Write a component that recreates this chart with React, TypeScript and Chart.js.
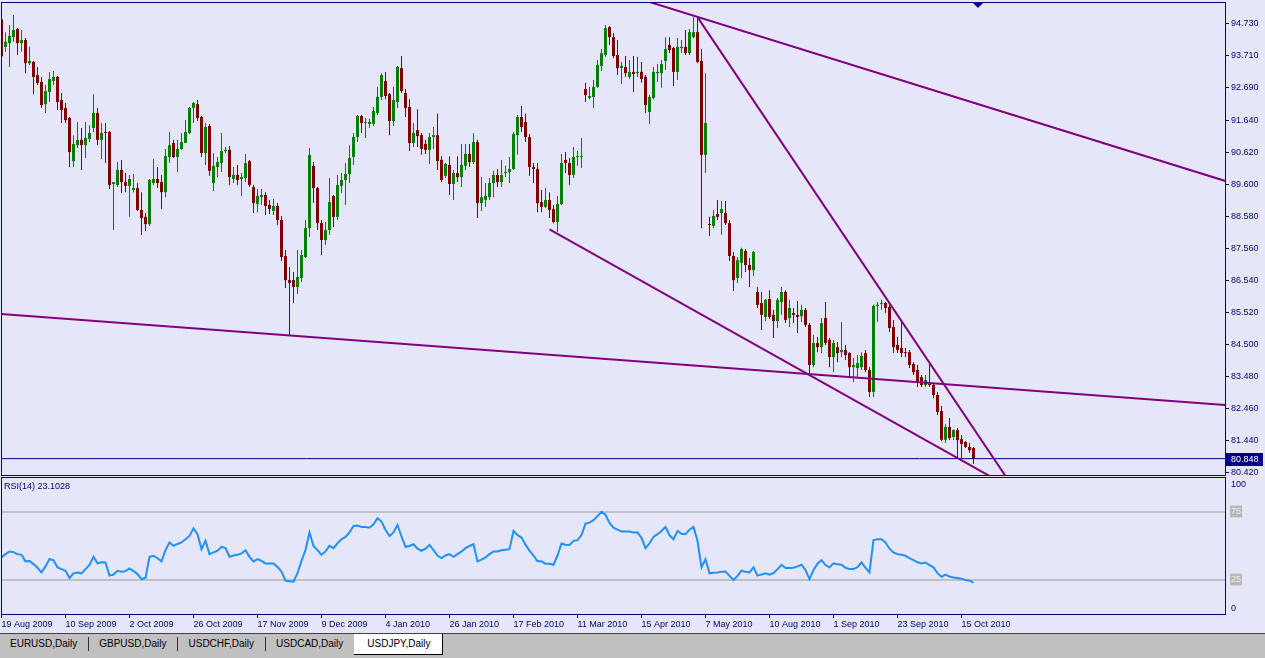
import React, { useEffect, useRef } from 'react';
import { Chart, registerables } from 'chart.js';

Chart.register(...registerables);

// ---------- data ----------
const dateLabels = ['19 Aug 2009', '10 Sep 2009', '2 Oct 2009', '26 Oct 2009', '17 Nov 2009', '9 Dec 2009', '4 Jan 2010', '26 Jan 2010', '17 Feb 2010', '11 Mar 2010', '15 Apr 2010', '7 May 2010', '10 Aug 2010', '1 Sep 2010', '23 Sep 2010', '15 Oct 2010'];
const barsPerLabel = 16;

const opens = [
  94.88, 94.00, 94.12, 94.31, 94.57, 94.12, 94.22, 93.48, 93.52, 93.10,
  92.88, 92.17, 92.56, 92.91, 93.04, 92.30, 92.05, 91.73, 90.35, 90.86,
  91.03, 90.86, 91.06, 91.41, 91.89, 91.03, 91.28, 91.28, 89.62, 89.59,
  90.07, 89.68, 89.56, 89.43, 89.49, 88.79, 88.57, 88.34, 89.65, 89.78,
  89.68, 89.36, 90.48, 90.93, 90.48, 90.74, 90.93, 91.25, 92.05, 92.17,
  91.76, 90.61, 91.47, 89.65, 90.16, 90.29, 90.67, 90.71, 89.78, 89.91,
  89.78, 89.81, 90.35, 89.52, 88.98, 89.20, 89.27, 88.95, 88.76, 88.92,
  88.47, 87.32, 86.55, 86.55, 86.33, 86.62, 87.29, 88.21, 90.20, 89.49,
  88.37, 87.83, 88.15, 89.24, 88.57, 89.56, 89.75, 89.94, 90.48, 91.12,
  91.79, 91.57, 91.54, 91.54, 91.89, 92.40, 92.91, 92.49, 91.63, 92.24,
  93.32, 92.53, 92.08, 90.93, 91.34, 91.18, 90.90, 90.71, 91.12, 91.18,
  90.39, 89.88, 90.23, 89.62, 89.97, 89.84, 90.20, 90.58, 90.32, 90.96,
  89.01, 89.11, 89.20, 89.65, 89.91, 89.68, 89.97, 90.00, 90.10, 91.18,
  91.76, 91.60, 91.12, 90.16, 90.10, 89.04, 88.89, 89.11, 88.82, 88.41,
  88.98, 90.39, 90.29, 89.91, 90.48, 90.48, 92.65, 92.37, 92.40, 92.72,
  93.39, 93.74, 94.63, 94.31, 93.74, 93.32, 93.36, 93.04, 93.20, 93.16,
  93.20, 93.04, 91.92, 92.37, 93.16, 93.16, 93.55, 94.06, 93.96, 93.20,
  93.96, 94.00, 93.80, 94.31, 94.47, 93.55, 90.55, 88.34, 88.28, 88.66,
  88.69, 88.69, 88.37, 87.32, 86.62, 87.10, 87.48, 87.03, 86.87, 86.17,
  85.82, 85.37, 85.95, 85.44, 85.24, 85.85, 86.17, 85.34, 85.50, 85.44,
  85.40, 85.60, 85.12, 83.84, 84.54, 84.41, 85.34, 84.64, 84.09, 84.41,
  84.25, 84.32, 84.22, 83.77, 83.74, 83.77, 84.22, 83.68, 82.98, 85.72,
  85.79, 85.82, 85.69, 85.05, 84.48, 84.38, 84.25, 84.25, 83.87, 83.68,
  83.45, 83.20, 83.29, 83.20, 82.88, 82.37, 81.45, 81.86, 81.54, 81.76,
  81.47, 81.38, 81.22, 81.19,
];

const highs = [
  94.95, 94.47, 94.70, 95.02, 94.60, 94.54, 94.28, 94.00, 93.55, 93.36,
  93.04, 92.78, 93.20, 93.23, 93.07, 92.53, 92.21, 91.76, 91.18, 91.60,
  91.41, 91.60, 91.50, 92.49, 92.05, 91.57, 91.57, 91.31, 89.68, 90.32,
  90.39, 89.97, 89.91, 89.94, 89.65, 89.36, 88.69, 89.78, 90.42, 90.16,
  89.91, 90.74, 91.28, 91.03, 91.03, 91.25, 91.66, 92.08, 92.24, 92.30,
  91.79, 91.57, 91.54, 90.61, 90.48, 91.25, 90.80, 90.83, 90.16, 90.23,
  89.97, 90.58, 90.39, 89.59, 89.46, 89.46, 89.36, 89.11, 89.14, 89.01,
  88.60, 87.51, 86.97, 86.81, 87.51, 87.51, 88.47, 90.77, 90.32, 89.52,
  88.47, 88.41, 89.81, 89.27, 89.91, 89.97, 90.29, 90.86, 91.25, 91.82,
  91.82, 91.73, 91.70, 92.08, 92.72, 93.16, 93.20, 92.53, 92.72, 93.39,
  93.71, 92.65, 92.33, 91.57, 92.01, 91.25, 91.03, 91.25, 91.44, 91.86,
  90.51, 90.29, 90.51, 90.07, 90.51, 90.90, 90.90, 90.90, 91.25, 91.03,
  89.84, 89.65, 89.81, 90.04, 90.10, 90.39, 90.20, 90.48, 91.28, 91.82,
  92.11, 91.86, 91.22, 90.29, 90.29, 89.43, 89.49, 89.36, 88.95, 89.24,
  90.58, 90.64, 90.45, 90.80, 90.67, 91.09, 92.85, 92.72, 92.94, 93.58,
  93.93, 94.70, 94.67, 94.44, 94.22, 93.52, 93.71, 93.58, 93.71, 93.68,
  93.52, 93.10, 92.46, 93.36, 93.45, 93.58, 94.31, 94.31, 94.00, 94.28,
  94.22, 94.54, 94.57, 94.95, 94.95, 93.93, 93.16, 88.57, 88.79, 89.11,
  89.08, 89.08, 88.47, 87.45, 87.29, 87.58, 87.54, 87.26, 87.48, 86.33,
  86.17, 85.95, 86.23, 85.60, 85.98, 86.33, 86.23, 85.92, 85.66, 85.88,
  85.76, 85.66, 85.18, 84.80, 84.73, 85.34, 85.85, 84.70, 84.64, 84.57,
  85.21, 84.48, 84.25, 84.06, 84.16, 84.25, 84.32, 83.77, 85.76, 85.85,
  85.92, 85.85, 85.76, 85.28, 84.73, 85.28, 84.38, 84.32, 83.93, 83.84,
  83.52, 83.52, 83.90, 83.26, 82.98, 82.53, 81.95, 82.15, 81.79, 81.83,
  81.60, 81.41, 81.35, 81.22,
];

const lows = [
  93.62, 93.84, 93.36, 94.16, 93.74, 93.84, 93.16, 93.42, 92.49, 92.78,
  92.05, 91.89, 92.24, 92.78, 91.98, 91.57, 91.57, 90.16, 90.16, 90.77,
  90.07, 90.45, 90.96, 91.28, 90.86, 90.42, 90.29, 89.46, 88.15, 89.52,
  89.33, 89.36, 88.57, 89.36, 88.76, 87.99, 88.12, 88.28, 89.59, 89.49,
  88.82, 89.20, 90.29, 90.45, 90.00, 90.71, 90.93, 91.22, 91.57, 91.63,
  90.48, 90.23, 89.88, 89.40, 89.84, 90.00, 90.61, 89.59, 89.65, 89.59,
  89.24, 89.68, 89.52, 88.69, 88.72, 88.95, 88.63, 88.66, 88.63, 88.31,
  87.16, 86.30, 84.80, 85.82, 86.11, 86.49, 87.26, 87.93, 89.01, 88.15,
  87.35, 87.67, 87.99, 88.25, 88.47, 89.33, 88.95, 89.65, 90.23, 90.96,
  91.25, 91.09, 91.41, 91.47, 91.82, 92.30, 92.33, 91.18, 91.47, 92.05,
  92.53, 91.76, 90.67, 90.80, 90.80, 90.55, 90.58, 90.26, 90.74, 90.07,
  89.68, 89.81, 89.27, 89.11, 89.68, 89.52, 90.07, 90.16, 90.26, 88.53,
  88.76, 88.89, 89.11, 89.20, 89.52, 89.52, 89.84, 89.65, 90.07, 90.55,
  91.28, 90.96, 89.88, 89.65, 88.72, 88.72, 88.85, 88.53, 88.37, 88.09,
  88.95, 89.97, 89.59, 89.81, 90.20, 90.13, 92.24, 92.33, 92.05, 92.69,
  93.23, 93.68, 94.06, 93.64, 93.10, 92.81, 93.04, 92.97, 92.56, 93.04,
  92.85, 91.89, 91.54, 92.33, 92.88, 92.69, 93.26, 93.80, 92.75, 92.94,
  93.80, 93.74, 93.74, 94.28, 93.48, 88.21, 89.97, 87.96, 88.21, 88.47,
  88.00, 88.31, 87.16, 86.20, 86.46, 86.62, 86.81, 86.33, 86.68, 85.66,
  84.96, 85.24, 85.31, 84.70, 85.02, 85.44, 85.18, 85.05, 85.18, 84.86,
  85.21, 85.05, 83.58, 83.77, 84.25, 84.22, 84.48, 83.77, 83.61, 83.93,
  84.09, 84.00, 83.45, 83.29, 83.45, 83.68, 83.61, 82.82, 82.82, 85.21,
  85.60, 85.50, 84.89, 84.22, 84.22, 84.09, 84.09, 83.74, 83.52, 83.14,
  83.14, 83.14, 83.14, 82.78, 82.24, 81.40, 81.35, 81.44, 81.44, 80.86,
  80.83, 81.19, 81.03, 80.68,
];

const closes = [
  93.70, 94.16, 94.35, 94.54, 94.12, 94.22, 93.48, 93.55, 93.04, 92.85,
  92.14, 92.59, 92.97, 93.04, 92.24, 91.98, 91.66, 90.64, 90.90, 91.03,
  90.86, 91.09, 91.25, 91.89, 91.03, 91.25, 91.25, 89.59, 89.68, 90.07,
  89.68, 89.56, 89.78, 89.49, 88.79, 88.53, 88.34, 89.75, 89.78, 89.65,
  89.36, 90.51, 90.86, 90.48, 90.74, 90.96, 91.28, 92.05, 92.21, 91.73,
  90.61, 91.44, 90.04, 90.20, 90.32, 90.67, 90.71, 89.84, 89.91, 89.75,
  89.84, 90.29, 89.59, 89.01, 89.24, 89.27, 88.92, 88.82, 88.92, 88.47,
  87.29, 86.55, 86.46, 86.33, 86.65, 87.35, 88.21, 90.55, 89.49, 88.37,
  87.83, 88.15, 89.04, 88.57, 89.59, 89.75, 89.94, 90.45, 91.12, 91.79,
  91.57, 91.60, 91.60, 91.95, 92.40, 93.10, 92.43, 91.63, 92.30, 93.36,
  92.59, 92.05, 90.93, 91.25, 91.15, 90.74, 90.71, 91.12, 91.18, 90.35,
  89.75, 90.26, 89.62, 89.97, 89.84, 90.23, 90.58, 90.32, 90.96, 89.01,
  89.20, 89.24, 89.65, 89.91, 89.68, 89.91, 90.00, 90.10, 91.22, 91.76,
  91.44, 91.12, 90.16, 90.10, 89.01, 88.89, 89.11, 88.79, 88.41, 88.98,
  90.29, 90.29, 89.91, 90.48, 90.51, 90.51, 92.46, 92.43, 92.72, 93.42,
  93.80, 94.60, 94.31, 93.71, 93.32, 93.39, 93.16, 93.20, 93.13, 93.20,
  92.97, 92.14, 92.40, 93.20, 93.20, 93.45, 93.93, 93.90, 93.20, 94.00,
  94.00, 93.80, 94.47, 94.47, 93.52, 90.55, 91.57, 88.31, 88.60, 88.57,
  88.82, 88.37, 87.32, 86.55, 87.19, 87.54, 87.03, 86.87, 87.45, 85.76,
  85.44, 85.92, 85.37, 85.24, 85.92, 86.17, 85.28, 85.66, 85.44, 85.37,
  85.60, 85.12, 83.84, 84.54, 84.41, 85.18, 84.54, 84.09, 84.54, 84.22,
  84.32, 84.16, 83.77, 83.84, 83.90, 84.13, 83.68, 82.98, 85.72, 85.76,
  85.82, 85.66, 85.02, 84.41, 84.32, 84.22, 84.22, 83.84, 83.61, 83.29,
  83.20, 83.36, 83.20, 82.88, 82.34, 81.45, 81.86, 81.51, 81.76, 81.44,
  81.32, 81.22, 81.12, 80.848,
];

const rsiPeriod = 14;
const rsiValues = [
  41.6, 44, 46, 45.5, 44, 43.5, 38.7, 39, 36.7, 34,
  30.6, 35, 40.4, 39.5, 34.3, 33, 31.8, 26.5, 29.9, 30.5,
  29.9, 33, 36, 42.1, 37.2, 38, 37.9, 28.2, 29, 31.8,
  31.1, 31.5, 33.5, 31.5, 29.4, 25.7, 26.5, 42.1, 42.8, 41,
  38.7, 47, 52.6, 50.1, 51.5, 52.6, 55, 57.4, 63, 58.7,
  47.7, 53.8, 44, 45.3, 46.5, 49.4, 48.4, 42.1, 43, 43.5,
  44.5, 46.9, 42, 38.7, 40.4, 39, 37.2, 37.2, 37.2, 34.5,
  31.3, 24.5, 24, 23.8, 30, 39.1, 47, 59.9, 50.1, 47,
  43.5, 46, 50.1, 48.4, 52, 55, 56.7, 60, 64.8, 65,
  64, 64, 63.5, 66, 70.4, 68, 62, 57.4, 60, 65.5,
  57, 49.4, 50, 51.3, 48, 46.5, 48, 50.8, 47, 43,
  41.1, 43, 44, 42.1, 44, 46, 48.4, 50, 51.3, 38.7,
  40, 41.6, 44, 46, 46, 46.9, 47.3, 47.7, 61.1, 58,
  56.2, 51, 46.5, 43, 38.7, 38.7, 37, 37, 36.2, 43,
  51.8, 51, 50.8, 53.8, 54.3, 58, 66.5, 67.2, 69, 72,
  75.2, 73, 67, 63.5, 62, 60.6, 60.6, 60.6, 60, 59.9,
  56, 48.4, 52, 56.7, 58.7, 61, 64, 58, 55, 61.1,
  59, 58.7, 62, 64, 53.8, 34.3, 40.4, 29.9, 30.3, 30.6,
  31, 31.3, 28, 25, 28, 31.8, 31, 30.6, 34.3, 28.2,
  29, 29.9, 28.9, 30, 33, 36.2, 33.8, 33.8, 34, 35,
  36.2, 32.3, 25.7, 32.3, 37, 39.6, 36, 34.3, 37.2, 36.5,
  36.2, 34, 33, 33, 34.5, 37.9, 34, 30.6, 54.3, 55,
  55, 52.6, 48, 45.3, 44, 43.5, 42.8, 41, 39.6, 38,
  37.2, 37.9, 36, 34.3, 30, 27.4, 28.9, 27.5, 26.9, 26.5,
  26, 25, 24.5, 23.1028,
];
const rsiLevels = [75, 25];
const rsiScaleMin = 0;
const rsiScaleMax = 100;

const priceTicks = [94.73, 93.71, 92.69, 91.64, 90.62, 89.6, 88.58, 87.56, 86.54, 85.52, 84.5, 83.48, 82.46, 81.44, 80.42];

// trend lines: [bar index, price] end points
const supportLine = [{ x: -1, y: 85.474 }, { x: 310, y: 82.523 }];
const upperLine = [{ x: 150, y: 95.91 }, { x: 310, y: 89.556 }];
const steepLine = [{ x: 174, y: 94.95 }, { x: 260, y: 78.58 }];
const lowerLine = [{ x: 137, y: 88.173 }, { x: 260, y: 79.364 }];

const tabs = ['EURUSD,Daily', 'GBPUSD,Daily', 'USDCHF,Daily', 'USDCAD,Daily', 'USDJPY,Daily'];
const activeTab = 'USDJPY,Daily';

// ---------- styles / layout ----------
const NAVY = '#000080';
const BG = '#E6E6FA';
const BULL = '#008000';
const BEAR = '#800000';
const TREND = '#800080';
const RSI_COLOR = '#1E90FF';
const LEVEL = '#C0C0C0';
const FONT = '"Liberation Sans", Arial, sans-serif';
const X_MIN = -0.125;
const X_SPAN = 306;
const Y_MAX = 95.4007;
const Y_MIN = 80.3256;

const framePlugin = {
  id: 'frame',
  afterDatasetsDraw(chart: any) {
    const { ctx, chartArea: a } = chart;
    ctx.save();
    ctx.strokeStyle = NAVY;
    ctx.lineWidth = 1;
    ctx.strokeRect(Math.round(a.left) + 0.5, Math.round(a.top) - 0.5, Math.round(a.right - a.left), Math.round(a.bottom - a.top) + 1);
    ctx.restore();
  },
};

const noPadY = (width: number) => (s: any) => {
  s.width = width;
  s.paddingTop = 0;
  s.paddingBottom = 0;
};
const noPadX = (height: number) => (s: any) => {
  s.height = height;
  s.paddingLeft = 0;
  s.paddingRight = 0;
};

function MainChart() {
  const ref = useRef<HTMLCanvasElement | null>(null);
  useEffect(() => {
    const canvas = ref.current;
    if (!canvas) return;
    const colors = closes.map((c, i) => (c >= opens[i] ? BULL : BEAR));
    const lastClose = closes[closes.length - 1];
    const lineDs = (data: any[], color: string, width: number) => ({
      type: 'line' as const,
      data,
      borderColor: color,
      borderWidth: width,
      pointRadius: 0,
      fill: false,
      tension: 0,
      order: 0,
    });
    const priceLabel = {
      id: 'priceLabel',
      afterDraw(chart: any) {
        const { ctx, chartArea: a, scales } = chart;
        const py = Math.round(scales.y.getPixelForValue(lastClose));
        ctx.save();
        ctx.fillStyle = NAVY;
        ctx.fillRect(a.right + 1, py - 6, chart.width - a.right - 3, 13);
        ctx.fillStyle = '#FFFFFF';
        ctx.font = `9px ${FONT}`;
        ctx.textBaseline = 'middle';
        ctx.textAlign = 'left';
        ctx.fillText(lastClose.toFixed(3), a.right + 6, py + 0.5);
        // chart-shift marker just after the last bar
        const sx = Math.round(scales.x.getPixelForValue(opens.length));
        const ty = Math.round(a.top);
        ctx.fillStyle = NAVY;
        ctx.beginPath();
        ctx.moveTo(sx - 5, ty);
        ctx.lineTo(sx + 5, ty);
        ctx.lineTo(sx, ty + 5);
        ctx.closePath();
        ctx.fill();
        ctx.restore();
      },
    };
    const chart = new Chart(canvas, {
      type: 'bar',
      data: {
        datasets: [
          lineDs(supportLine, TREND, 2),
          lineDs(upperLine, TREND, 2),
          lineDs(steepLine, TREND, 2),
          lineDs(lowerLine, TREND, 2),
          lineDs([{ x: X_MIN - 1, y: lastClose }, { x: X_MIN + X_SPAN + 1, y: lastClose }], NAVY, 1),
          {
            type: 'bar',
            data: opens.map((o, i) => ({ x: i, y: [o, closes[i]] })),
            backgroundColor: colors,
            barThickness: 3,
            minBarLength: 1,
            grouped: false,
            inflateAmount: 0,
            borderWidth: 0,
            order: 1,
          },
          {
            type: 'bar',
            data: highs.map((h, i) => ({ x: i, y: [lows[i], h] })),
            backgroundColor: colors,
            barThickness: 1,
            grouped: false,
            inflateAmount: 0,
            borderWidth: 0,
            order: 2,
          },
        ] as any,
      },
      options: {
        responsive: false,
        maintainAspectRatio: false,
        animation: false,
        events: [],
        layout: { padding: { left: 1, top: 3, right: 0, bottom: 2 }, autoPadding: false },
        plugins: { legend: { display: false }, tooltip: { enabled: false } },
        scales: {
          x: { type: 'linear', min: X_MIN, max: X_MIN + X_SPAN, offset: false, display: false },
          y: {
            type: 'linear',
            position: 'right',
            min: Y_MIN,
            max: Y_MAX,
            bounds: 'data',
            afterFit: noPadY(40),
            afterBuildTicks: (s: any) => { s.ticks = priceTicks.map((v) => ({ value: v })); },
            grid: { drawOnChartArea: false, drawTicks: true, tickLength: 4, color: NAVY },
            border: { display: false },
            ticks: {
              autoSkip: false,
              padding: 2,
              color: NAVY,
              font: { family: FONT, size: 9 },
              callback: (v: any) => Number(v).toFixed(3),
            },
          },
        },
      } as any,
      plugins: [framePlugin, priceLabel],
    });
    return () => chart.destroy();
  }, []);
  return <canvas ref={ref} width={1265} height={477} style={{ display: 'block' }} />;
}

function RsiChart() {
  const ref = useRef<HTMLCanvasElement | null>(null);
  useEffect(() => {
    const canvas = ref.current;
    if (!canvas) return;
    const rsiText = {
      id: 'rsiText',
      afterDraw(chart: any) {
        const { ctx, chartArea: a, scales } = chart;
        ctx.save();
        ctx.font = `9px ${FONT}`;
        ctx.fillStyle = NAVY;
        ctx.textAlign = 'left';
        ctx.textBaseline = 'top';
        ctx.fillText(`RSI(${rsiPeriod}) ${rsiValues[rsiValues.length - 1].toFixed(4)}`, a.left + 3, a.top + 4);
        ctx.fillText(String(rsiScaleMax), a.right + 6, scales.y.getPixelForValue(rsiScaleMax) + 2);
        ctx.textBaseline = 'bottom';
        ctx.fillText(String(rsiScaleMin), a.right + 6, scales.y.getPixelForValue(rsiScaleMin) - 1);
        ctx.restore();
      },
    };
    const chart = new Chart(canvas, {
      type: 'line',
      data: {
        datasets: [
          ...rsiLevels.map((lv) => ({
            data: [{ x: X_MIN - 1, y: lv }, { x: X_MIN + X_SPAN + 1, y: lv }],
            borderColor: LEVEL,
            borderWidth: 2,
            pointRadius: 0,
            tension: 0,
            order: 2,
          })),
          {
            data: rsiValues.map((v, i) => ({ x: i, y: v })),
            borderColor: RSI_COLOR,
            borderWidth: 2,
            pointRadius: 0,
            tension: 0,
            order: 1,
          },
        ] as any,
      },
      options: {
        responsive: false,
        maintainAspectRatio: false,
        animation: false,
        events: [],
        layout: { padding: { left: 1, top: 1, right: 0, bottom: 0 }, autoPadding: false },
        plugins: { legend: { display: false }, tooltip: { enabled: false } },
        scales: {
          x: {
            type: 'linear',
            position: 'bottom',
            min: X_MIN,
            max: X_MIN + X_SPAN,
            offset: false,
            afterFit: noPadX(19),
            afterBuildTicks: (s: any) => { s.ticks = dateLabels.map((_, i) => ({ value: i * barsPerLabel })); },
            grid: { drawOnChartArea: false, drawTicks: true, tickLength: 4, color: NAVY, offset: false },
            border: { display: false },
            ticks: {
              autoSkip: false,
              maxRotation: 0,
              minRotation: 0,
              align: 'start',
              padding: 1,
              color: NAVY,
              font: { family: FONT, size: 9 },
              callback: (v: any) => dateLabels[Math.round(Number(v) / barsPerLabel)] ?? '',
            },
          },
          y: {
            type: 'linear',
            position: 'right',
            min: rsiScaleMin,
            max: rsiScaleMax,
            afterFit: noPadY(40),
            afterBuildTicks: (s: any) => { s.ticks = rsiLevels.map((v) => ({ value: v })); },
            grid: { drawOnChartArea: false, drawTicks: false },
            border: { display: false },
            ticks: {
              autoSkip: false,
              padding: 6,
              color: '#EDEDED',
              showLabelBackdrop: true,
              backdropColor: '#B8B8B8',
              backdropPadding: { left: 1, right: 1, top: 1, bottom: 0 },
              font: { family: FONT, size: 9 },
            },
          },
        },
      } as any,
      plugins: [framePlugin, rsiText],
    });
    return () => chart.destroy();
  }, []);
  return <canvas ref={ref} width={1265} height={156} style={{ display: 'block' }} />;
}

function TabBar() {
  const items: React.ReactNode[] = [];
  tabs.forEach((t, i) => {
    const active = t === activeTab;
    items.push(
      <div
        key={t}
        style={{
          height: 20,
          lineHeight: '20px',
          padding: active ? '0 12px 0 13px' : '0 11px 0 10px',
          background: active ? '#FFFFFF' : 'transparent',
          borderRight: active ? '1px solid #000' : 'none',
          borderBottom: active ? '1px solid #000' : 'none',
          whiteSpace: 'nowrap',
        }}
      >
        {t}
      </div>
    );
    const next = tabs[i + 1];
    if (next && next !== activeTab && !active) {
      items.push(<div key={t + '-sep'} style={{ width: 1, height: 14, marginTop: 3, background: '#303030' }} />);
    }
  });
  return (
    <div
      style={{
        height: 25,
        boxSizing: 'border-box',
        background: '#C0C0C0',
        borderTop: '1px solid #404040',
        display: 'flex',
        alignItems: 'flex-start',
        fontFamily: FONT,
        fontSize: 10,
        color: '#000',
      }}
    >
      {items}
    </div>
  );
}

export default function App() {
  return (
    <div style={{ position: 'fixed', left: 0, top: 0, width: 1265, height: 658, background: BG, overflow: 'hidden' }}>
      <MainChart />
      <RsiChart />
      <TabBar />
    </div>
  );
}
